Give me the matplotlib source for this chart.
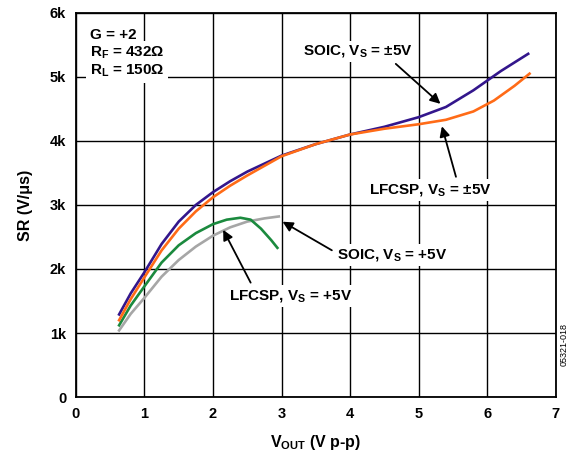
import matplotlib
matplotlib.use('Agg')
from matplotlib import pyplot as plt

plt.rcParams['font.family'] = ['Liberation Sans', 'DejaVu Sans']
plt.rcParams['font.weight'] = 'bold'
plt.rcParams['mathtext.fontset'] = 'custom'
plt.rcParams['mathtext.rm'] = 'Liberation Sans:bold'
plt.rcParams['mathtext.it'] = 'Liberation Sans:bold'
plt.rcParams['mathtext.bf'] = 'Liberation Sans:bold'
plt.rcParams['mathtext.default'] = 'rm'

# SR (V/us) vs VOUT (V p-p)
soic_pm5_x = [0.63, 0.8, 1.0, 1.25, 1.5, 1.75, 2.0, 2.25, 2.5, 3.0, 3.5, 4.0, 4.5, 5.0, 5.4, 5.8, 6.2, 6.6]
soic_pm5_y = [1290, 1620, 1950, 2390, 2740, 3000, 3200, 3370, 3520, 3770, 3950, 4100, 4220, 4370, 4530, 4790, 5090, 5360]

lfcsp_pm5_x = [0.63, 0.8, 1.0, 1.25, 1.5, 1.75, 2.0, 2.25, 2.5, 3.0, 3.5, 4.0, 4.5, 5.0, 5.4, 5.8, 6.1, 6.4, 6.62]
lfcsp_pm5_y = [1200, 1530, 1870, 2290, 2630, 2900, 3120, 3300, 3460, 3760, 3950, 4100, 4190, 4260, 4330, 4460, 4630, 4860, 5050]

lfcsp_p5_x = [0.63, 0.8, 1.0, 1.25, 1.5, 1.75, 2.0, 2.2, 2.4, 2.55, 2.7, 2.85, 2.94]
lfcsp_p5_y = [1120, 1430, 1730, 2100, 2370, 2560, 2700, 2770, 2800, 2770, 2630, 2450, 2330]

soic_p5_x = [0.63, 0.8, 1.0, 1.25, 1.5, 1.75, 2.0, 2.25, 2.5, 2.75, 2.96]
soic_p5_y = [1040, 1300, 1550, 1880, 2140, 2350, 2520, 2650, 2740, 2790, 2820]

x_ticks = [0, 1, 2, 3, 4, 5, 6, 7]
y_ticks = [0, 1000, 2000, 3000, 4000, 5000, 6000]
y_labels = ['0', '1k', '2k', '3k', '4k', '5k', '6k']

fig = plt.figure(figsize=(5.71, 4.59), dpi=100)
ax = fig.add_axes([0.133, 0.135, 0.840, 0.837])

ax.plot(soic_p5_x, soic_p5_y, color='#a6a6a6', lw=1.9, zorder=3)
ax.plot(lfcsp_p5_x, lfcsp_p5_y, color='#1b8a3e', lw=1.9, zorder=3)
ax.plot(lfcsp_pm5_x, lfcsp_pm5_y, color='#ff6b17', lw=1.9, zorder=4)
ax.plot(soic_pm5_x, soic_pm5_y, color='#33168c', lw=1.9, zorder=3)

ax.set_xlim(0, 7)
ax.set_ylim(0, 6000)
ax.set_xticks(x_ticks)
ax.set_yticks(y_ticks)
ax.set_yticklabels(y_labels)
ax.tick_params(length=0, labelsize=10.5, pad=7)
ax.grid(True, color='black', lw=1.0)
ax.set_axisbelow(True)
for s in ax.spines.values():
    s.set_linewidth(1.3)

ax.set_xlabel(r'V$_{OUT}$ (V p-p)', fontsize=11.5, fontweight='bold', labelpad=9)
ax.set_ylabel('SR (V/\u03bcs)', fontsize=11.5, fontweight='bold', labelpad=12)

box = dict(facecolor='white', edgecolor='none', pad=2)
cond_lines = ['G = +2', r'R$_F$ = 432$\Omega$', r'R$_L$ = 150$\Omega$']
cond_y = [5650, 5370, 5090]
for txt, yy in zip(cond_lines, cond_y):
    ax.text(0.2, yy, txt, fontsize=11, fontweight='bold', va='center', ha='left',
            bbox=dict(facecolor='white', edgecolor='none', pad=3), zorder=5)

arrow = dict(arrowstyle='-|>', color='black', lw=1.3, mutation_scale=15)
ax.annotate(r'SOIC, V$_S$ = $\pm$5V', xy=(5.35, 4550), xytext=(3.31, 5400),
            fontsize=11, fontweight='bold', ha='left', va='center',
            arrowprops=dict(arrow, relpos=(0.8, 0.0)), bbox=box, zorder=6)
ax.annotate(r'LFCSP, V$_S$ = $\pm$5V', xy=(5.33, 4270), xytext=(4.28, 3230),
            fontsize=11, fontweight='bold', ha='left', va='center',
            arrowprops=dict(arrow, relpos=(0.72, 1.0)), bbox=box, zorder=6)
ax.annotate(r'SOIC, V$_S$ = +5V', xy=(2.98, 2760), xytext=(3.81, 2220),
            fontsize=11, fontweight='bold', ha='left', va='center',
            arrowprops=dict(arrow, relpos=(0.0, 0.6)), bbox=box, zorder=6)
ax.annotate(r'LFCSP, V$_S$ = +5V', xy=(2.13, 2650), xytext=(2.23, 1580),
            fontsize=11, fontweight='bold', ha='left', va='center',
            arrowprops=dict(arrow, relpos=(0.2, 1.0)), bbox=box, zorder=6)

fig.text(0.988, 0.25, '05321-018', rotation=90, fontsize=6.5, fontweight='normal',
         ha='center', va='center', family='Liberation Sans')

fig.savefig('out.png', dpi=100)
